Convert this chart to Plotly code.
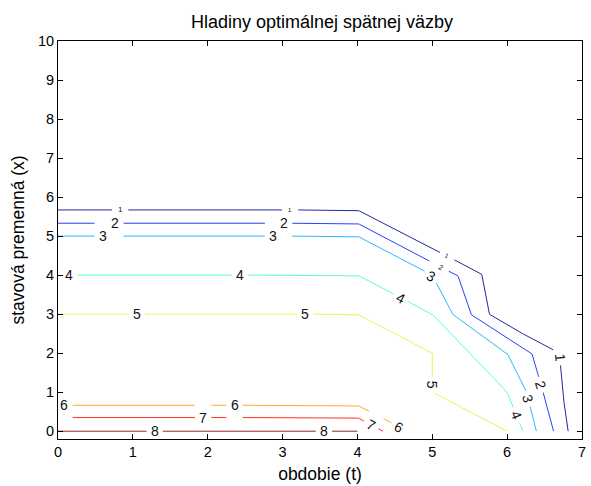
import math
import plotly.graph_objects as go

# ---------------- data ----------------
levels = [1, 2, 3, 4, 5, 6, 7, 8]

# contour paths of the optimal feedback u(t, x): period t, state x
t_1 = [0.0, 4.0, 5.66, 5.76, 6.04, 6.70, 6.74, 6.815]
x_1 = [5.67, 5.67, 4.03, 3.0, 2.67, 2.0, 1.0, 0.0]
t_2 = [0.0, 4.0, 5.22, 5.34, 5.51, 6.02, 6.33, 6.48, 6.62]
x_2 = [5.33, 5.33, 4.10, 4.0, 3.0, 2.35, 2.0, 1.0, 0.0]
t_3 = [0.0, 4.0, 5.0, 5.27, 6.0, 6.26, 6.39]
x_3 = [5.0, 5.0, 4.0, 3.0, 2.0, 1.0, 0.0]
t_4 = [0.0, 4.0, 5.0, 6.0, 6.21]
x_4 = [4.0, 4.0, 3.0, 1.0, 0.0]
t_5 = [0.0, 4.0, 5.0, 5.0, 6.0]
x_5 = [3.0, 3.0, 2.0, 1.0, 0.0]
t_6 = [0.0, 4.0, 4.67]
x_6 = [0.665, 0.665, 0.0]
t_7 = [0.0, 4.0, 4.34]
x_7 = [0.35, 0.35, 0.0]
t_8 = [0.0, 4.0]
x_8 = [0.0, 0.0]

paths_t = [t_1, t_2, t_3, t_4, t_5, t_6, t_7, t_8]
paths_x = [x_1, x_2, x_3, x_4, x_5, x_6, x_7, x_8]

# inline contour labels (level, t, x)
label_level = [1, 1, 1, 1,
               2, 2, 2, 2,
               3, 3, 3, 3,
               4, 4, 4, 4,
               5, 5, 5,
               6, 6, 6,
               7, 7,
               8, 8]
label_t = [0.83, 3.10, 5.20, 6.704,
           0.764, 3.02, 5.12, 6.45,
           0.595, 2.875, 4.98, 6.28,
           0.153, 2.43, 4.58, 6.12,
           1.054, 3.30, 5.0,
           0.086, 2.36, 4.55,
           1.94, 4.18,
           1.292, 3.55]
label_x = [5.67, 5.67, 4.49, 1.89,
           5.33, 5.33, 4.20, 1.19,
           5.0, 5.0, 3.97, 0.83,
           4.0, 4.0, 3.42, 0.41,
           3.0, 3.0, 1.18,
           0.665, 0.665, 0.12,
           0.35, 0.15,
           0.0, 0.0]

t_ticks = [0, 1, 2, 3, 4, 5, 6, 7]
x_ticks = [0, 1, 2, 3, 4, 5, 6, 7, 8, 9, 10]

# ---------------- geometry ----------------
W, H = 591, 486
ML, MR, MT, MB = 58, 5, 41, 46
T_RANGE = [0, 7]
X_RANGE = [-0.2, 10]
PW, PH = W - ML - MR, H - MT - MB


def to_px(t, x):
    return (ML + (t - T_RANGE[0]) / (T_RANGE[1] - T_RANGE[0]) * PW,
            MT + (X_RANGE[1] - x) / (X_RANGE[1] - X_RANGE[0]) * PH)


def to_data(px, py):
    return (T_RANGE[0] + (px - ML) / PW * (T_RANGE[1] - T_RANGE[0]),
            X_RANGE[1] - (py - MT) / PH * (X_RANGE[1] - X_RANGE[0]))


def jet(level):
    # row of MATLAB's jet(64) used for this level
    i = 1 + round((level - min(levels)) * 63 / (max(levels) - min(levels)))
    if i <= 8:
        r, g, b = 0, 0, 0.5 + 0.0625 * i
    elif i <= 24:
        r, g, b = 0, 0.0625 * (i - 8), 1
    elif i <= 40:
        r, g, b = 0.0625 * (i - 24), 1, 1 - 0.0625 * (i - 24)
    elif i <= 56:
        r, g, b = 1, 1 - 0.0625 * (i - 40), 0
    else:
        r, g, b = 1 - 0.0625 * (i - 56), 0, 0
    return "rgb(%d,%d,%d)" % (round(r * 255), round(g * 255), round(b * 255))


def label_angle(level, t, x):
    # direction of the nearest segment of the labelled line, in screen degrees
    pts = [to_px(a, b) for a, b in zip(paths_t[level - 1], paths_x[level - 1])]
    cx, cy = to_px(t, x)
    best, ang = 1e9, 0.0
    for (ax, ay), (bx, by) in zip(pts[:-1], pts[1:]):
        dx, dy = bx - ax, by - ay
        L2 = dx * dx + dy * dy
        if L2 == 0:
            continue
        s = max(0.0, min(1.0, ((cx - ax) * dx + (cy - ay) * dy) / L2))
        d = math.hypot(ax + s * dx - cx, ay + s * dy - cy)
        if d < best:
            best = d
            ang = math.degrees(math.atan2(dy, dx))
    while ang > 90:
        ang -= 180
    while ang <= -90:
        ang += 180
    if abs(ang) < 1:
        ang = 0.0
    return ang


# label boxes in pixels: half length along the text, half height across it
BOX_HW, BOX_HH = 8.0, 13.0
boxes = []
for lv, t, x in zip(label_level, label_t, label_x):
    cx, cy = to_px(t, x)
    boxes.append((cx, cy, math.radians(label_angle(lv, t, x))))


def in_any_box(px, py):
    for cx, cy, a in boxes:
        u = (px - cx) * math.cos(a) + (py - cy) * math.sin(a)
        v = -(px - cx) * math.sin(a) + (py - cy) * math.cos(a)
        if abs(u) <= BOX_HW and abs(v) <= BOX_HH:
            return True
    return False


def broken_line(ts, xs):
    # the contour line with gaps where labels sit
    pts = [to_px(a, b) for a, b in zip(ts, xs)]
    dense = []
    for (ax, ay), (bx, by) in zip(pts[:-1], pts[1:]):
        n = max(1, int(math.hypot(bx - ax, by - ay) / 0.4))
        for k in range(n):
            dense.append((ax + (bx - ax) * k / n, ay + (by - ay) * k / n))
    dense.append(pts[-1])
    runs, cur = [], []
    for p in dense:
        if in_any_box(*p):
            if cur:
                runs.append(cur)
            cur = []
        else:
            cur.append(p)
    if cur:
        runs.append(cur)
    out_t, out_x = [], []
    for run in runs:
        length = sum(math.hypot(b[0] - a[0], b[1] - a[1]) for a, b in zip(run[:-1], run[1:]))
        if length < 5:
            continue
        for p in run:
            tt, xx = to_data(*p)
            out_t.append(tt)
            out_x.append(xx)
        out_t.append(None)
        out_x.append(None)
    return out_t, out_x


fig = go.Figure()
for lv, ts, xs in zip(levels, paths_t, paths_x):
    bt, bx = broken_line(ts, xs)
    fig.add_trace(go.Scatter(x=bt, y=bx, mode="lines", name=str(lv),
                             line=dict(color=jet(lv), width=1),
                             opacity=0.85, hoverinfo="skip", showlegend=False))

FONT = "Liberation Sans, Arial, Helvetica, sans-serif"
# labels partly hidden under neighbouring labels are drawn smaller
small_labels = {0: 8, 1: 6, 2: 6, 6: 7}

for k, (lv, t, x) in enumerate(zip(label_level, label_t, label_x)):
    fig.add_annotation(x=t, y=x, text=str(lv), showarrow=False,
                       xanchor="center", yanchor="middle",
                       textangle=label_angle(lv, t, x),
                       font=dict(family=FONT, size=small_labels.get(k, 14), color="#111"))

axis_common = dict(showgrid=False, zeroline=False, showline=True, linecolor="black",
                   linewidth=1, mirror="ticks", ticks="inside", ticklen=5,
                   tickcolor="black", tickwidth=1,
                   tickfont=dict(family=FONT, size=14.5, color="black"))

fig.update_layout(
    width=W, height=H,
    margin=dict(l=ML, r=MR, t=MT, b=MB, pad=0),
    paper_bgcolor="white", plot_bgcolor="white",
    title=dict(text="Hladiny optimálnej spätnej väzby", x=(ML + PW / 2) / W,
               xanchor="center", y=1 - 22 / H, yanchor="middle",
               font=dict(family=FONT, size=18, color="black")),
    xaxis=dict(range=T_RANGE, tickvals=t_ticks,
               title=dict(text="obdobie (t)", standoff=8,
                          font=dict(family=FONT, size=17.5, color="black")),
               **axis_common),
    yaxis=dict(range=X_RANGE, tickvals=x_ticks,
               title=dict(text="stavová premenná (x)", standoff=8,
                          font=dict(family=FONT, size=17.5, color="black")),
               **axis_common),
)

fig.write_html("out.html")
